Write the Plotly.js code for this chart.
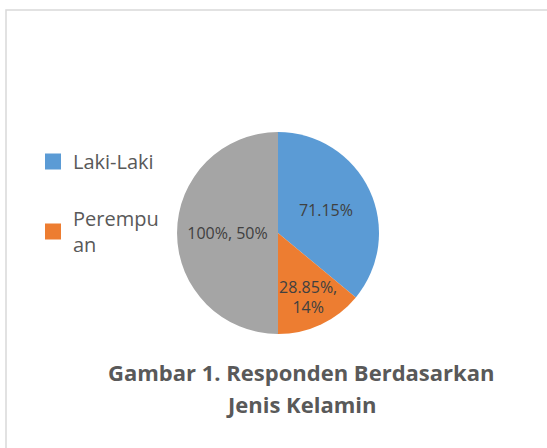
<!DOCTYPE html>
<html>
<head>
<meta charset="utf-8">
<script src="https://cdn.plot.ly/plotly-3.0.1.min.js"></script>
<style>html,body{margin:0;padding:0;background:#fff;}#chart{width:547px;height:448px;}</style>
</head>
<body>
<div id="chart"></div>
<script>
// Data
const sliceLabels = ['Laki-Laki', 'Perempuan', 'Lainnya'];
const sliceValues = [36, 14, 50];
const sliceText = ['71.15%', '28.85%,<br>14%', '100%, 50%'];
const legendNames = ['Laki-Laki', 'Perempu<br>an'];
const titleLines = ['Gambar 1. Responden Berdasarkan', 'Jenis Kelamin'];
const colors = ['#5B9BD5', '#ED7D31', '#A5A5A5'];

const W = 547, H = 448;
const cx = 278, cy = 233, r = 101;

const pie = {
  type: 'pie',
  labels: sliceLabels,
  values: sliceValues,
  text: sliceText,
  textinfo: 'text',
  textposition: 'inside',
  insidetextorientation: 'horizontal',
  sort: false,
  direction: 'clockwise',
  rotation: 0,
  marker: {colors: colors, line: {width: 0}},
  textfont: {family: 'Open Sans', size: 16, color: '#404040'},
  showlegend: false,
  hoverinfo: 'none',
  domain: {x: [(cx - r) / W, (cx + r) / W], y: [(H - cy - r) / H, (H - cy + r) / H]}
};

const legendTraces = legendNames.map((n, i) => ({
  type: 'scatter', mode: 'markers', x: [null], y: [null],
  name: n, legendgroup: 'g' + i,
  marker: {symbol: 'square', size: 16, color: colors[i]},
  hoverinfo: 'none'
}));

const layout = {
  width: W, height: H,
  margin: {l: 0, r: 0, t: 0, b: 0},
  paper_bgcolor: '#ffffff', plot_bgcolor: '#ffffff',
  xaxis: {visible: false}, yaxis: {visible: false},
  showlegend: true,
  legend: {
    x: 33 / W, y: 1 - 142 / H, xanchor: 'left', yanchor: 'top',
    font: {family: 'Open Sans', size: 20, color: '#595959'},
    traceorder: 'grouped', tracegroupgap: 28, bgcolor: 'rgba(0,0,0,0)'
  },
  annotations: titleLines.map((t, i) => ({
    xref: 'paper', yref: 'paper', x: 301 / W, y: 1 - (372 + 32 * i) / H,
    xanchor: 'center', yanchor: 'middle', showarrow: false,
    text: t,
    font: {family: 'Open Sans', size: 22, color: '#595959', weight: 'bold'}
  })),
  shapes: [{
    type: 'rect', xref: 'paper', yref: 'paper',
    x0: 6 / W, x1: 1.02, y0: -0.02, y1: 1 - 10 / H,
    line: {color: '#D9D9D9', width: 1.5}, fillcolor: 'rgba(0,0,0,0)', layer: 'below'
  }],
  uniformtext: {minsize: 16, mode: 'show'}
};

Plotly.newPlot('chart', [pie].concat(legendTraces), layout, {displayModeBar: false, staticPlot: true});
</script>
</body>
</html>
